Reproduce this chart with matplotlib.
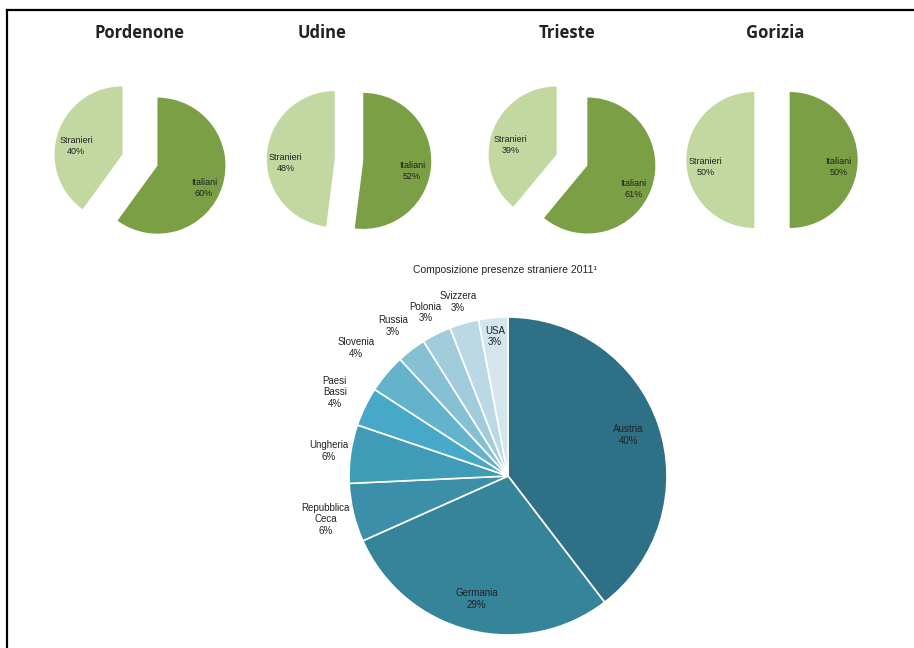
import numpy as np
import matplotlib
matplotlib.use("Agg")
import matplotlib.pyplot as plt
from matplotlib.lines import Line2D

# --- data ---
provinces = ["Pordenone", "Udine", "Trieste", "Gorizia"]
italiani = [60, 52, 61, 50]
stranieri = [40, 48, 39, 50]

countries = ["Austria", "Germania", "Repubblica\nCeca", "Ungheria", "Paesi\nBassi",
             "Slovenia", "Russia", "Polonia", "Svizzera", "USA"]
shares = [40, 29, 6, 6, 4, 4, 3, 3, 3, 3]

W, H = 914, 648
fig = plt.figure(figsize=(W / 100, H / 100), dpi=100)
fig.patch.set_facecolor("white")


def px_axes(cx, cy, half):
    # axes centered on pixel (cx, cy), half-size in pixels
    return fig.add_axes([(cx - half) / W, (H - cy - half) / H, 2 * half / W, 2 * half / H])


green_dark = "#7A9F45"
green_light = "#C3D8A0"

# small pies
pie_cx = [140, 349, 572, 772]
title_cx = [140, 322, 567, 775]
explode_k = [0.27, 0.21, 0.24, 0.26]
r_small = 68
for i, name in enumerate(provinces):
    ax = px_axes(pie_cx[i], 160, 1.6 * r_small)
    vals = [italiani[i], stranieri[i]]
    e = explode_k[i]
    wedges, _ = ax.pie(vals, colors=[green_dark, green_light], startangle=90,
                       counterclock=False, explode=[e, e], radius=1)
    ax.set_xlim(-1.6, 1.6)
    ax.set_ylim(-1.6, 1.6)
    ax.set_aspect("equal")
    ax.axis("off")
    labs = [f"Italiani\n{italiani[i]}%", f"Stranieri\n{stranieri[i]}%"]
    for w, lab in zip(wedges, labs):
        ang = np.deg2rad((w.theta1 + w.theta2) / 2)
        d = 0.72
        x = (e + d) * np.cos(ang)
        y = (e + d) * np.sin(ang) - 0.1
        ax.text(x, y, lab, ha="center", va="center", fontsize=6.5,
                family="Liberation Sans", color="#222222", linespacing=1.3)
    fig.text(title_cx[i] / W, 1 - 33 / H, name, ha="center", va="center",
             fontsize=12, fontweight="bold", family="Open Sans", color="#222222")

# big pie
blues = ["#2E7186", "#35849A", "#3B8FA8", "#3F9BB6", "#47A8C7",
         "#64B3CC", "#86C1D3", "#A1CCDB", "#BBD9E4", "#D4E6ED"]
label_r = [0.8, 0.8, 1.18, 1.14, 1.21, 1.25, 1.19, 1.15, 1.14, 0.88]
r_big = 159
ax = px_axes(508, 476, 1.5 * r_big)
wedges, _ = ax.pie(shares, colors=blues, startangle=90, counterclock=False,
                   wedgeprops=dict(edgecolor="white", linewidth=1.2))
ax.set_xlim(-1.5, 1.5)
ax.set_ylim(-1.5, 1.5)
ax.set_aspect("equal")
ax.axis("off")
for w, name, val, d in zip(wedges, countries, shares, label_r):
    ang = np.deg2rad((w.theta1 + w.theta2) / 2)
    ax.text(d * np.cos(ang), d * np.sin(ang), f"{name}\n{val}%", ha="center",
            va="center", fontsize=7, family="Liberation Sans", color="#222222",
            linespacing=1.2)

fig.text(505 / W, 1 - 270 / H, "Composizione presenze straniere 2011\u00b9",
         ha="center", va="center", fontsize=7.5, family="Liberation Sans", color="#222222")

# frame lines (left and top)
fig.add_artist(Line2D([7 / W, 7 / W], [0, 1 - 10 / H], transform=fig.transFigure,
                      color="black", linewidth=1.6))
fig.add_artist(Line2D([7 / W, 1], [1 - 10 / H, 1 - 10 / H], transform=fig.transFigure,
                      color="black", linewidth=1.6))

fig.savefig("out.png", dpi=100, facecolor="white")
